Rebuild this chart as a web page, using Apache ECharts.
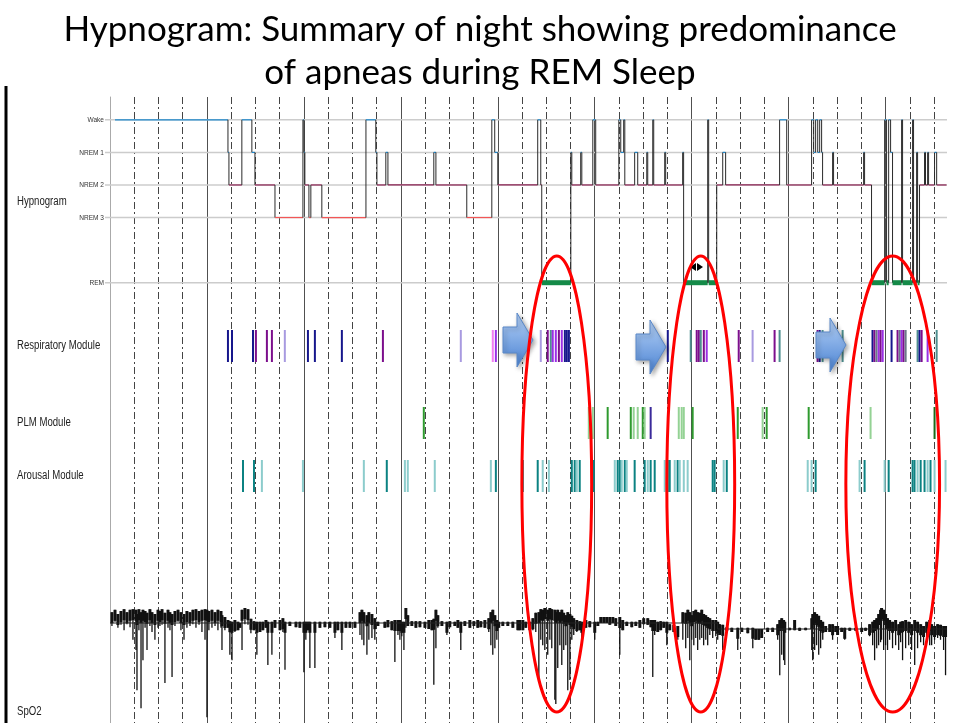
<!DOCTYPE html>
<html lang="en">
<head>
<meta charset="UTF-8">
<title>Hypnogram summary</title>
<script src="https://cdn.jsdelivr.net/npm/echarts@6/dist/echarts.min.js"></script>
<style>
  html, body { margin: 0; padding: 0; background: #fff; }
  #chart { width: 960px; height: 723px; }
</style>
</head>
<body>
<div id="chart"></div>
<script>
// time axis: minutes from start of recording
var nightMinutes = 518;

// hypnogram: stage entered at each time
var stageNames = { 0: 'Wake', 1: 'NREM 1', 2: 'NREM 2', 3: 'NREM 3', 5: 'REM' };
var stageLevel = { W: 0, N1: 1, N2: 2, N3: 3, R: 5 };
var hypnoTimes = [3.1, 73.0, 73.6, 81.6, 87.8, 89.7, 102.1, 119.4, 120.0, 120.6,
  123.1, 124.3, 131.1, 158.4, 164.5, 165.2, 170.7, 172.0, 200.4, 201.7,
  220.8, 236.3, 238.1, 240.0, 264.7, 266.6, 267.2, 285.2, 285.8, 291.3,
  292.0, 298.8, 300.6, 314.9, 316.1, 317.9, 318.6, 324.7, 326.6, 332.2,
  332.8, 335.9, 336.5, 343.3, 343.9, 354.4, 355.0, 369.9, 370.5, 375.5,
  379.2, 381.0, 414.4, 418.8, 434.2, 435.5, 436.7, 438.0, 439.2, 440.4,
  441.0, 447.2, 447.8, 466.4, 467.0, 471.3, 479.4, 480.6, 481.9, 483.1,
  484.3, 489.9, 490.5, 496.7, 497.3, 499.2, 499.8, 501.0, 504.1, 504.7,
  506.0, 506.6, 510.3, 511.6];
var hypnoStages = ['W', 'N1', 'N2', 'W', 'N1', 'N2', 'N3', 'W', 'N1', 'N2',
  'N3', 'N2', 'N3', 'W', 'N1', 'N2', 'N1', 'N2', 'N1', 'N2',
  'N3', 'W', 'N1', 'N2', 'W', 'N2', 'R', 'N1', 'N2', 'N1',
  'N2', 'W', 'N2', 'W', 'N1', 'W', 'N2', 'N1', 'N2', 'N1',
  'N2', 'W', 'N2', 'N1', 'N2', 'N1', 'R', 'W', 'R', 'N2',
  'N1', 'N2', 'W', 'N2', 'W', 'N1', 'W', 'N1', 'W', 'N1',
  'N2', 'N1', 'N2', 'N1', 'N2', 'R', 'W', 'R', 'W', 'N1',
  'R', 'W', 'R', 'W', 'R', 'N1', 'R', 'N2', 'N1', 'N2',
  'N1', 'N2', 'N1', 'N2'];
var hypnoEnd = 517.7;

// scored events per module (minute, event type)
var respTimes = [73.0, 75.5, 88.5, 90.3, 97.1, 100.2, 108.2, 122.5, 126.8, 143.5,
  168.9, 217.1, 236.9, 238.8, 266.6, 270.9, 272.8, 274.0, 275.9, 277.8,
  279.6, 281.5, 282.7, 284.0, 345.2, 359.4, 363.1, 364.4, 365.6, 367.5,
  369.3, 389.1, 397.7, 411.3, 414.4, 437.9, 439.2, 441.0, 453.4, 471.9,
  473.1, 474.4, 475.7, 476.9, 478.2, 483.7, 487.4, 488.7, 489.9, 491.1,
  492.4, 499.8, 501.0, 502.3, 506.0, 511.6];
var respKinds = ['n', 'n', 'n', 'p', 'p', 'p', 'l', 'n', 'n', 'n',
  'p', 'l', 'k', 'v', 'l', 'p', 't', 'v', 'v', 'p',
  'v', 'n', 'n', 'n', 'n', 't', 'p', 'p', 't', 'p',
  'v', 'p', 'l', 'p', 't', 'p', 'n', 't', 't', 'n',
  'p', 'g', 'v', 'p', 'v', 'n', 'p', 'g', 'v', 'p',
  'g', 't', 'n', 'p', 'v', 't'];

var plmTimes = [194.2, 296.3, 298.8, 308.0, 322.3, 324.1, 326.6, 329.7, 330.9, 334.6,
  352.0, 353.8, 355.1, 360.6, 388.5, 403.9, 406.4, 432.4, 470.7, 510.3];
var plmKinds = ['g', 'l', 'l', 'g', 'g', 'l', 'l', 'g', 'l', 'n',
  'l', 'l', 'l', 'g', 'g', 'l', 'g', 'g', 'l', 'd'];

var arousalTimes = [82.3, 89.1, 94.0, 119.4, 157.1, 171.3, 182.5, 184.3, 201.0, 235.7,
  238.8, 255.5, 264.7, 267.8, 271.6, 285.8, 287.6, 288.9, 290.7, 299.4,
  312.4, 314.2, 315.5, 316.7, 318.6, 319.8, 324.7, 330.9, 332.8, 334.6,
  337.1, 343.3, 345.2, 346.4, 349.5, 351.3, 352.6, 355.1, 357.5, 373.0,
  374.2, 379.8, 381.7, 431.8, 434.2, 436.7, 463.9, 467.0, 479.4, 481.9,
  496.7, 497.9, 499.8, 501.7, 504.1, 506.0, 507.8, 510.3, 517.1];
var arousalKinds = ['d', 'd', 'l', 'l', 'l', 'd', 'l', 'l', 'l', 'l',
  'd', 'd', 'd', 'l', 'l', 'd', 'd', 'l', 'd', 'd',
  'l', 'd', 'd', 'l', 'd', 'l', 'd', 'd', 'l', 'd',
  'd', 'l', 'd', 'd', 'l', 'd', 'l', 'l', 'l', 'd',
  'd', 'l', 'd', 'l', 'l', 'd', 'l', 'd', 'l', 'd',
  'd', 'd', 'l', 'd', 'd', 'l', 'd', 'l', 'l'];

// SpO2 (%) swings: [minute, high, low]
var spo2Baseline = [[0, 96.0], [376, 96.0], [376, 95.0], [518, 95.0]];
var spo2Swings = [
  [1.2, 97.8, 95.5], [3.1, 98.2, 96.2], [4.9, 97.5, 95.2], [6.8, 98.0, 95.7], [8.7, 98.3, 94.8],
  [10.5, 97.8, 95.8], [12.4, 98.2, 95.3], [14.2, 98.3, 93.2], [16.1, 98.2, 91.5], [16.7, 97.5, 84.8],
  [17.9, 98.3, 94.8], [19.2, 97.8, 81.8], [20.4, 98.2, 89.8], [21.7, 98.0, 95.2], [22.9, 97.7, 91.5],
  [24.7, 98.3, 95.5], [26.0, 97.8, 94.5], [27.8, 97.5, 93.2], [29.7, 98.2, 95.2], [30.9, 98.0, 95.5],
  [32.2, 98.3, 95.7], [34.0, 97.7, 86.0], [35.9, 98.2, 95.2], [37.1, 97.8, 94.8], [38.4, 97.5, 87.0],
  [40.2, 98.0, 95.5], [42.1, 98.2, 96.2], [43.9, 97.8, 94.8], [45.8, 97.5, 93.2], [47.6, 98.0, 95.2],
  [49.5, 97.8, 95.5], [51.3, 98.2, 95.8], [53.2, 98.3, 95.2], [55.1, 98.0, 95.7], [56.9, 98.2, 94.5],
  [58.8, 98.3, 93.2], [60.0, 98.2, 80.3], [61.2, 98.0, 94.8], [63.1, 98.2, 95.2], [65.0, 97.8, 95.5],
  [66.8, 98.2, 94.8], [68.7, 98.0, 95.2], [69.3, 97.3, 91.5], [71.1, 97.0, 94.8], [73.0, 96.5, 95.2],
  [74.2, 96.3, 90.7], [75.5, 96.2, 89.8], [77.3, 96.5, 94.5], [79.2, 96.2, 94.8], [80.4, 96.0, 95.2],
  [81.7, 98.2, 91.5], [83.5, 98.5, 95.8], [85.4, 98.3, 95.7], [87.2, 96.7, 94.3], [89.1, 96.3, 94.8],
  [90.9, 96.2, 90.7], [92.8, 96.2, 94.5], [94.6, 96.2, 94.8], [96.5, 96.5, 95.2], [97.7, 96.2, 89.0],
  [100.2, 96.2, 90.7], [102.1, 96.5, 95.2], [105.2, 96.5, 94.8], [107.0, 96.8, 94.5], [108.3, 96.2, 88.2],
  [111.3, 96.2, 95.5], [115.1, 96.2, 95.3], [117.5, 96.2, 95.2], [120.0, 96.2, 87.8], [121.2, 96.2, 93.2],
  [122.5, 96.2, 94.8], [123.7, 96.2, 88.5], [126.8, 96.2, 88.5], [129.9, 96.2, 95.2], [133.0, 96.2, 95.3],
  [136.1, 96.2, 95.2], [139.2, 96.2, 93.5], [141.0, 96.2, 94.8], [143.5, 96.2, 91.5], [146.0, 96.2, 95.2],
  [148.5, 96.2, 95.2], [151.6, 96.2, 95.2], [154.7, 97.8, 94.0], [155.9, 98.2, 93.2], [157.1, 97.8, 92.3],
  [159.0, 97.3, 90.7], [160.2, 97.8, 93.2], [162.1, 97.5, 93.5], [163.9, 96.8, 93.2], [165.8, 96.2, 95.5],
  [170.1, 96.2, 95.2], [172.0, 96.5, 95.3], [174.4, 96.3, 94.8], [176.3, 96.5, 89.5], [178.2, 96.5, 94.0],
  [179.4, 96.5, 93.2], [180.6, 96.2, 93.8], [181.9, 96.2, 91.5], [183.1, 98.5, 95.2], [184.3, 97.3, 95.5],
  [186.8, 96.3, 95.5], [189.3, 96.3, 95.2], [191.8, 96.3, 95.3], [194.9, 96.2, 95.2], [197.3, 96.5, 95.0],
  [199.2, 96.5, 94.8], [200.4, 96.7, 85.7], [201.7, 98.2, 91.8], [202.9, 97.3, 95.2], [205.4, 96.3, 95.5],
  [208.5, 96.2, 94.0], [210.3, 96.3, 95.3], [213.4, 96.2, 95.5], [215.3, 96.5, 95.2], [217.1, 96.2, 91.5],
  [219.6, 96.3, 95.5], [222.7, 96.5, 95.2], [225.2, 96.3, 95.5], [227.6, 96.5, 95.2], [229.5, 96.3, 95.3],
  [232.0, 96.5, 95.2], [234.4, 96.8, 94.5], [235.7, 97.8, 92.3], [236.9, 98.2, 90.7], [238.2, 97.3, 91.8],
  [239.4, 96.5, 93.2], [240.6, 96.2, 95.2], [243.1, 96.2, 95.5], [246.2, 96.2, 95.5], [249.3, 96.2, 95.2],
  [252.4, 96.5, 94.8], [253.6, 96.5, 94.8], [255.5, 96.5, 94.8], [257.3, 96.2, 95.2], [259.8, 96.2, 94.8],
  [261.7, 96.8, 94.8], [263.5, 97.7, 94.5], [265.4, 97.8, 86.5], [266.6, 98.3, 93.2], [267.8, 98.2, 92.3],
  [269.1, 98.5, 91.5], [270.9, 98.2, 90.7], [272.2, 98.5, 93.2], [273.4, 98.3, 91.8], [275.3, 98.2, 83.2],
  [275.9, 97.8, 82.5], [277.1, 98.2, 88.5], [278.4, 97.8, 92.3], [279.6, 98.2, 89.0], [280.8, 97.7, 91.5],
  [282.1, 97.3, 92.3], [283.3, 97.8, 84.8], [284.6, 97.5, 86.5], [285.8, 97.2, 93.2], [287.0, 96.8, 94.0],
  [288.9, 96.5, 94.5], [290.7, 96.3, 94.8], [292.0, 96.2, 93.2], [294.5, 96.5, 95.2], [296.9, 96.3, 95.3],
  [300.0, 96.2, 93.2], [301.9, 96.2, 95.5], [303.7, 97.0, 96.0], [305.6, 97.0, 96.0], [307.4, 97.0, 96.0],
  [309.3, 97.0, 95.7], [311.2, 97.0, 96.0], [313.0, 96.8, 95.5], [315.5, 97.0, 90.7], [317.3, 96.5, 94.8],
  [319.8, 96.2, 95.5], [322.9, 96.2, 95.3], [325.4, 96.2, 95.5], [327.9, 96.5, 95.2], [330.3, 96.8, 95.8],
  [332.8, 96.8, 95.7], [334.7, 96.5, 95.3], [335.9, 96.5, 87.0], [337.1, 96.5, 94.0], [339.0, 96.2, 94.5],
  [340.8, 96.3, 94.8], [342.7, 96.2, 95.2], [344.6, 96.2, 92.3], [346.4, 95.8, 94.8], [348.9, 95.7, 94.5],
  [351.4, 95.5, 93.2], [354.5, 97.8, 93.2], [356.3, 97.7, 91.8], [357.6, 98.2, 93.5], [358.8, 97.8, 89.8],
  [360.0, 97.3, 93.2], [361.3, 98.0, 92.3], [362.5, 98.2, 93.5], [363.7, 97.8, 91.5], [365.0, 97.7, 93.2],
  [366.2, 98.2, 93.5], [367.4, 97.5, 92.3], [368.7, 97.3, 93.2], [369.9, 97.0, 92.3], [371.2, 96.8, 94.0],
  [373.0, 96.5, 93.5], [374.9, 96.5, 93.8], [376.1, 96.2, 93.2], [377.3, 95.8, 94.0], [379.2, 95.7, 91.5],
  [381.7, 95.3, 94.7], [384.8, 95.2, 94.5], [388.5, 95.2, 91.5], [391.0, 95.2, 94.5], [394.7, 95.2, 94.3],
  [397.8, 95.2, 91.8], [399.6, 95.0, 93.2], [401.5, 95.0, 93.2], [403.3, 95.0, 93.5], [407.0, 95.2, 94.5],
  [410.1, 95.2, 94.5], [413.2, 95.8, 93.2], [414.5, 96.5, 87.3], [415.7, 96.8, 90.7], [416.9, 96.5, 89.8],
  [417.6, 96.2, 89.0], [420.6, 95.2, 94.8], [423.7, 96.5, 94.8], [426.8, 95.2, 94.7], [430.5, 95.2, 94.8],
  [434.3, 96.8, 91.5], [434.9, 97.5, 89.8], [436.1, 97.8, 91.5], [437.3, 97.5, 92.3], [438.6, 97.2, 90.7],
  [439.8, 96.5, 91.8], [441.1, 96.2, 93.2], [442.9, 95.5, 94.5], [445.4, 95.8, 94.5], [447.2, 95.8, 93.2],
  [449.1, 95.5, 94.5], [450.3, 95.5, 94.0], [452.8, 95.2, 94.5], [454.7, 95.2, 93.2], [457.8, 95.2, 94.7],
  [461.5, 95.2, 94.7], [465.2, 95.2, 94.5], [467.6, 95.2, 94.7], [470.1, 95.8, 93.8], [472.0, 96.2, 92.3],
  [473.2, 96.5, 89.8], [474.5, 96.8, 91.8], [475.7, 97.5, 92.3], [476.9, 98.2, 92.8], [477.5, 98.5, 93.2],
  [478.8, 98.2, 91.5], [480.0, 97.5, 92.3], [481.2, 96.8, 91.5], [482.5, 96.5, 93.2], [484.3, 96.2, 91.8],
  [486.2, 96.5, 92.3], [488.1, 95.8, 91.5], [489.3, 96.2, 92.8], [490.5, 96.3, 89.8], [492.4, 96.5, 91.8],
  [494.3, 96.2, 92.3], [496.1, 95.8, 91.5], [498.0, 96.5, 89.0], [499.8, 96.2, 91.8], [501.7, 95.8, 92.8],
  [503.5, 95.5, 92.3], [505.4, 96.2, 93.2], [507.3, 96.5, 92.3], [508.5, 95.8, 92.3], [510.3, 95.5, 93.2],
  [512.2, 95.8, 93.5], [514.0, 95.7, 93.2], [515.9, 95.5, 91.5], [517.1, 95.5, 87.3]
];

// REM periods circled on the slide (minutes)
var remHighlights = [[254.9, 298.1], [344.6, 386.6], [455.4, 513.4]];

// ---- styling ----
var labelFont = '"Liberation Sans", Arial, sans-serif';
var stageColor = { 0: '#1e88cc', 1: '#1e88cc', 2: '#8a1f50', 3: '#f25656', 5: '#148a48' };
var respColors = { n: '#16168c', p: '#7c0e8c', v: '#9b2fe4', l: '#a89ae0', k: '#f27ef2', t: '#4e8f8f', g: '#6a7888' };
var plmColors = { g: '#2e9a2e', l: '#94d294', n: '#3a2a9a', d: '#1a6a1a' };
var arousalColors = { d: '#0b8282', l: '#8ccccc' };

var chart = echarts.init(document.getElementById('chart'));

// build hypnogram segments: [start, end, stage, previous stage]
var hypnoSegments = [];
for (var i = 0; i < hypnoTimes.length; i++) {
  var s = stageLevel[hypnoStages[i]];
  var prev = i > 0 ? stageLevel[hypnoStages[i - 1]] : s;
  var end = i < hypnoTimes.length - 1 ? hypnoTimes[i + 1] : hypnoEnd;
  hypnoSegments.push([hypnoTimes[i], end, s, prev]);
}

function renderLevel(params, api) {
  var v = api.value(1);
  var y = api.coord([0, v])[1];
  var cs = params.coordSys;
  return {
    type: 'group',
    children: [
      { type: 'line', shape: { x1: cs.x - 5, y1: y, x2: cs.x + cs.width, y2: y },
        style: { stroke: '#cccccc', lineWidth: 1.5 } },
      { type: 'text', x: cs.x - 6, y: y, scaleX: 0.82,
        style: { text: stageNames[v], x: 0, y: 0, align: 'right', verticalAlign: 'middle',
          fontSize: 8, fontFamily: labelFont, fill: '#333' } }
    ]
  };
}

function renderStage(params, api) {
  var t0 = api.value(0), t1 = api.value(1), s = api.value(2), prev = api.value(3);
  var a = api.coord([t0, s]);
  var b = api.coord([t1, s]);
  var children = [];
  if (prev !== s) {
    var p = api.coord([t0, prev]);
    children.push({ type: 'line', shape: { x1: a[0], y1: p[1], x2: a[0], y2: a[1] },
      style: { stroke: '#2a2a2a', lineWidth: 1 } });
  }
  children.push({ type: 'line', shape: { x1: a[0], y1: a[1], x2: b[0], y2: b[1] },
    style: { stroke: stageColor[s], lineWidth: s === 5 ? 5 : 1.2 } });
  return { type: 'group', children: children };
}

function eventRenderer(kinds, colors) {
  return function (params, api) {
    var t = api.value(0);
    var lo = api.coord([t, 0]);
    var hi = api.coord([t, 1]);
    return { type: 'rect', shape: { x: lo[0] - 1, y: hi[1], width: 2, height: lo[1] - hi[1] },
      style: { fill: colors[kinds[params.dataIndex]] || '#444' } };
  };
}

// thin full swing, with a heavier core near the top so the dense band reads as solid
function renderSwing(params, api) {
  var t = api.value(0);
  var a = api.coord([t, api.value(1)]);
  var b = api.coord([t, api.value(2)]);
  var coreEnd = Math.min(b[1], a[1] + 11);
  return {
    type: 'group',
    children: [
      { type: 'line', shape: { x1: a[0], y1: a[1], x2: b[0], y2: b[1] },
        style: { stroke: '#111', lineWidth: 1.3 } },
      { type: 'rect', shape: { x: a[0] - 1.5, y: a[1], width: 3, height: coreEnd - a[1] },
        style: { fill: '#111' } }
    ]
  };
}

function toPairs(times) {
  return times.map(function (t) { return [t, 1]; });
}

function hiddenX(gridIndex) {
  return { type: 'value', gridIndex: gridIndex, min: 0, max: nightMinutes, show: false };
}
function hiddenY(gridIndex, min, max) {
  return { type: 'value', gridIndex: gridIndex, min: min, max: max, show: false };
}

var option = {
  animation: false,
  backgroundColor: '#fff',
  title: {
    text: 'Hypnogram: Summary of night showing predominance\nof apneas during REM Sleep',
    left: 'center',
    top: 3,
    textStyle: { fontSize: 35, fontWeight: 'normal', fontFamily: 'Lato, "Open Sans", sans-serif',
      color: '#000', lineHeight: 43 }
  },
  grid: [
    { left: 110, right: 13, top: 97, bottom: 0 },
    { left: 110, right: 13, top: 97, height: 202 },
    { left: 110, right: 13, top: 330, height: 32 },
    { left: 110, right: 13, top: 407, height: 32 },
    { left: 110, right: 13, top: 460, height: 32 },
    { left: 110, right: 13, top: 599, height: 120 }
  ],
  xAxis: [
    { type: 'value', gridIndex: 0, min: 0, max: nightMinutes, interval: 15,
      axisLine: { show: false }, axisTick: { show: false }, axisLabel: { show: false },
      splitLine: { show: true, showMaxLine: false, lineStyle: { color: '#444', width: 1, type: [7, 3, 2, 3] } } },
    { type: 'value', gridIndex: 0, min: 0, max: nightMinutes, interval: 60,
      axisLine: { show: false }, axisTick: { show: false }, axisLabel: { show: false },
      splitLine: { show: true, showMaxLine: false, lineStyle: { color: '#505050', width: 1, type: 'solid' } } },
    hiddenX(1), hiddenX(2), hiddenX(3), hiddenX(4), hiddenX(5)
  ],
  yAxis: [
    { type: 'value', gridIndex: 0, min: 0, max: 1, offset: 3,
      axisLine: { show: true, lineStyle: { color: '#aaaaaa', width: 1 } },
      axisTick: { show: false }, axisLabel: { show: false }, splitLine: { show: false } },
    { type: 'value', gridIndex: 1, min: -0.7, max: 5.5, inverse: true, show: false },
    hiddenY(2, 0, 1), hiddenY(3, 0, 1), hiddenY(4, 0, 1), hiddenY(5, 80, 100)
  ],
  series: [
    { type: 'custom', name: 'levels', xAxisIndex: 2, yAxisIndex: 1, silent: true,
      renderItem: renderLevel, encode: { x: 0, y: 1 },
      data: [0, 1, 2, 3, 5].map(function (v) { return [0, v]; }) },
    { type: 'custom', name: 'Hypnogram', xAxisIndex: 2, yAxisIndex: 1, silent: true,
      renderItem: renderStage, encode: { x: [0, 1], y: 2 }, data: hypnoSegments },
    { type: 'custom', name: 'Respiratory', xAxisIndex: 3, yAxisIndex: 2, silent: true,
      renderItem: eventRenderer(respKinds, respColors), encode: { x: 0, y: 1 }, data: toPairs(respTimes) },
    { type: 'custom', name: 'PLM', xAxisIndex: 4, yAxisIndex: 3, silent: true,
      renderItem: eventRenderer(plmKinds, plmColors), encode: { x: 0, y: 1 }, data: toPairs(plmTimes) },
    { type: 'custom', name: 'Arousal', xAxisIndex: 5, yAxisIndex: 4, silent: true,
      renderItem: eventRenderer(arousalKinds, arousalColors), encode: { x: 0, y: 1 }, data: toPairs(arousalTimes) },
    { type: 'line', name: 'SpO2 baseline', xAxisIndex: 6, yAxisIndex: 5, silent: true,
      symbol: 'none', lineStyle: { color: '#222', width: 1 }, data: spo2Baseline },
    { type: 'custom', name: 'SpO2', xAxisIndex: 6, yAxisIndex: 5, silent: true,
      renderItem: renderSwing, encode: { x: 0, y: [1, 2] }, data: spo2Swings }
  ]
};

chart.setOption(option);

// annotations drawn on top of the chart
function rowLabel(text, y) {
  return { type: 'text', x: 17, y: y, scaleX: 0.8,
    style: { text: text, x: 0, y: 0, verticalAlign: 'middle',
      fontSize: 12, fontFamily: labelFont, fill: '#222' } };
}

function blockArrow(x, yc) {
  var pts = [[x, yc - 13], [x + 14, yc - 13], [x + 14, yc - 27], [x + 30, yc],
    [x + 14, yc + 27], [x + 14, yc + 13], [x, yc + 13]];
  return {
    type: 'polygon', z: 90, shape: { points: pts },
    style: {
      fill: new echarts.graphic.LinearGradient(0, 0, 0, 1, [
        { offset: 0, color: '#b6d2f7' }, { offset: 1, color: '#4a82d2' }]),
      stroke: '#5a88c8', lineWidth: 1,
      shadowBlur: 4, shadowColor: 'rgba(0,0,0,0.35)', shadowOffsetX: 2, shadowOffsetY: 2
    }
  };
}

var graphics = [
  { type: 'line', shape: { x1: 6, y1: 86, x2: 6, y2: 723 }, style: { stroke: '#000', lineWidth: 3 } },
  rowLabel('Hypnogram', 202),
  rowLabel('Respiratory Module', 346),
  rowLabel('PLM Module', 423),
  rowLabel('Arousal Module', 476),
  rowLabel('SpO2', 712),
  blockArrow(503, 340),
  blockArrow(636, 347),
  blockArrow(816, 345),
  { type: 'polygon', z: 95, shape: { points: [[690, 267], [696, 263], [696, 271]] }, style: { fill: '#000' } },
  { type: 'polygon', z: 95, shape: { points: [[697, 263], [703, 267], [697, 271]] }, style: { fill: '#000' } }
];

var ellipseTop = 256, ellipseBottom = 712;
remHighlights.forEach(function (r) {
  var x0 = chart.convertToPixel({ xAxisIndex: 0 }, r[0]);
  var x1 = chart.convertToPixel({ xAxisIndex: 0 }, r[1]);
  graphics.push({
    type: 'ellipse', z: 100,
    shape: { cx: (x0 + x1) / 2, cy: (ellipseTop + ellipseBottom) / 2, rx: (x1 - x0) / 2, ry: (ellipseBottom - ellipseTop) / 2 },
    style: { fill: 'none', stroke: '#ff0000', lineWidth: 3 }
  });
});

chart.setOption({ graphic: graphics });
</script>
</body>
</html>
